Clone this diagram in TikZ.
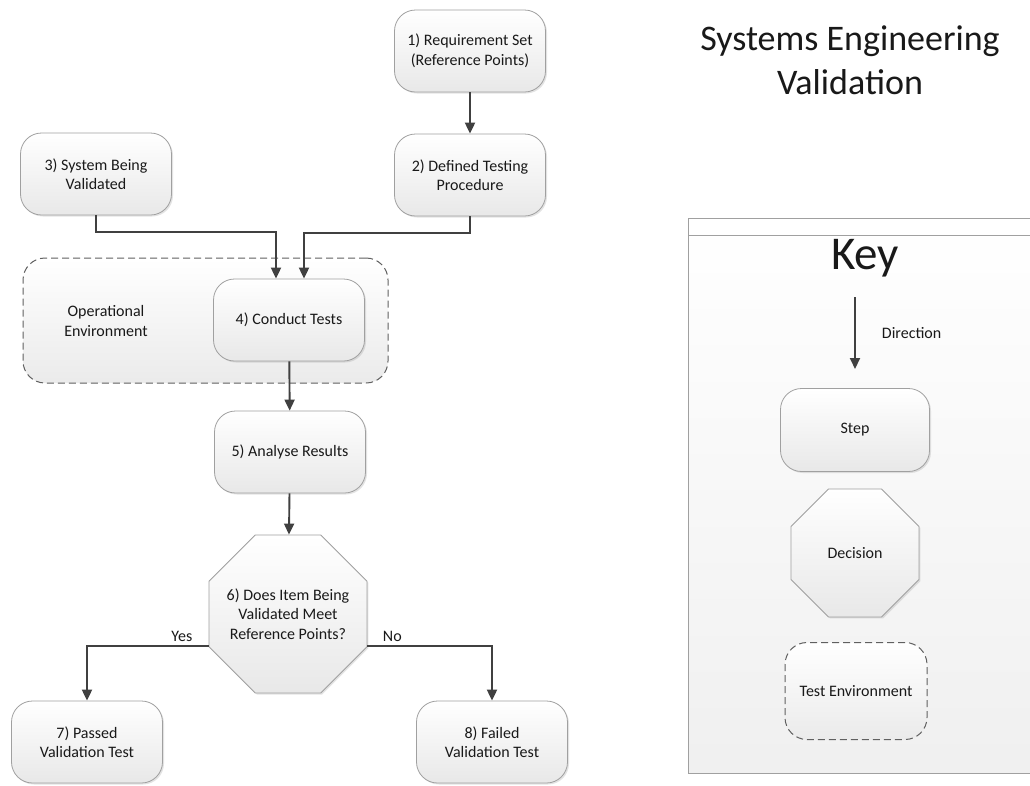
\documentclass[tikz,border=0pt]{standalone}
\usepackage{fontspec}
\setmainfont{Carlito}
\usetikzlibrary{arrows.meta,shapes.geometric,shadows,calc}

\definecolor{edge}{HTML}{A0A0A0}
\definecolor{wire}{HTML}{404040}
\definecolor{dash}{HTML}{606060}

\tikzset{
  every node/.style={font=\fontsize{16}{19.5}\selectfont, text=black!90},
  stepbox/.style={draw=edge, line width=0.8pt, rounded corners=21pt,
    top color=white, bottom color=black!9, align=center,
    minimum width=151pt, minimum height=82pt, inner sep=2pt,
    drop shadow={opacity=0.22, shadow xshift=1.5pt, shadow yshift=-1.5pt}},
  decisionbox/.style={draw=edge, line width=0.8pt, regular polygon,
    regular polygon sides=8, top color=white, bottom color=black!9,
    inner sep=0pt,
    drop shadow={opacity=0.22, shadow xshift=1.5pt, shadow yshift=-1.5pt}},
  envbox/.style={draw=dash, line width=1pt, dash pattern=on 7pt off 4pt,
    rounded corners=22pt, top color=white, bottom color=black!8, align=center},
  arr/.style={draw=wire, line width=1.9pt,
    -{Triangle[length=11pt,width=10pt]}},
  lbl/.style={font=\fontsize{16}{18}\selectfont, inner sep=1pt},
}

\begin{document}
\begin{tikzpicture}[x=1pt,y=-1pt]
\useasboundingbox (0,0) rectangle (1030,785);
\fill[white] (0,0) rectangle (1030,785);

% title
\node[align=center, font=\fontsize{36}{44}\selectfont] (title) at (850,60)
  {Systems Engineering\\Validation};

% test environment around step 4
\node[envbox, minimum width=365pt, minimum height=125pt] (env) at (205.5,320.5) {};
\node[align=center] (envlabel) at (106,321) {Operational\\Environment};

% steps
\node[stepbox] (n1) at (470,51)  {1) Requirement Set\\(Reference Points)};
\node[stepbox] (n2) at (470,175) {2) Defined Testing\\Procedure};
\node[stepbox] (n3) at (96,174)  {3) System Being\\Validated};
\node[stepbox] (n4) at (289,320) {4) Conduct Tests};
\node[stepbox] (n5) at (290,452) {5) Analyse Results};
\node[decisionbox, minimum size=171pt,
  label={[align=center]center:6) Does Item Being\\Validated Meet\\Reference Points?}]
  (d6) at (288,614) {};
\node[stepbox] (n7) at (87,742)  {7) Passed\\Validation Test};
\node[stepbox] (n8) at (492,742) {8) Failed\\Validation Test};

% connectors
\draw[arr] (n1) -- (n2);
\draw[arr] (n3.south) -- ++(0,17) -| ([xshift=-13pt]n4.north);
\draw[arr] (n2.south) -- ++(0,17) -| ([xshift=15pt]n4.north);
\draw[arr] (n4) -- (n5);
\draw[arr] (n5) -- (d6);
\draw[arr] (d6.202.5) -| (n7.north)
  node[lbl, pos=0.11, above=3pt] {Yes};
\draw[arr] (d6.-22.5) -| (n8.north)
  node[lbl, pos=0.1, above=3pt] {No};

% key panel
\begin{scope}
\clip (0,0) rectangle (1030,785);
\draw[draw=edge, line width=0.8pt, top color=white, bottom color=black!6]
  (688,218) rectangle (1040,773);
\draw[edge, line width=0.8pt] (688,235) -- (1040,235);
\end{scope}
\node[font=\fontsize{47}{52}\selectfont] (keytitle) at (865,258) {Key};
\coordinate (dirA) at (855,297);
\coordinate (dirB) at (855,369);
\draw[arr] (dirA) -- (dirB) node[lbl, midway, right=25pt] {Direction};
\node[stepbox, minimum width=149pt, minimum height=83pt] (kstep) at (855,430) {Step};
\node[decisionbox, minimum size=138.5pt, label=center:Decision] (kdec) at (855,553) {};
\node[envbox, minimum width=142pt, minimum height=97pt] (kenv) at (856,691) {Test Environment};
\end{tikzpicture}
\end{document}
